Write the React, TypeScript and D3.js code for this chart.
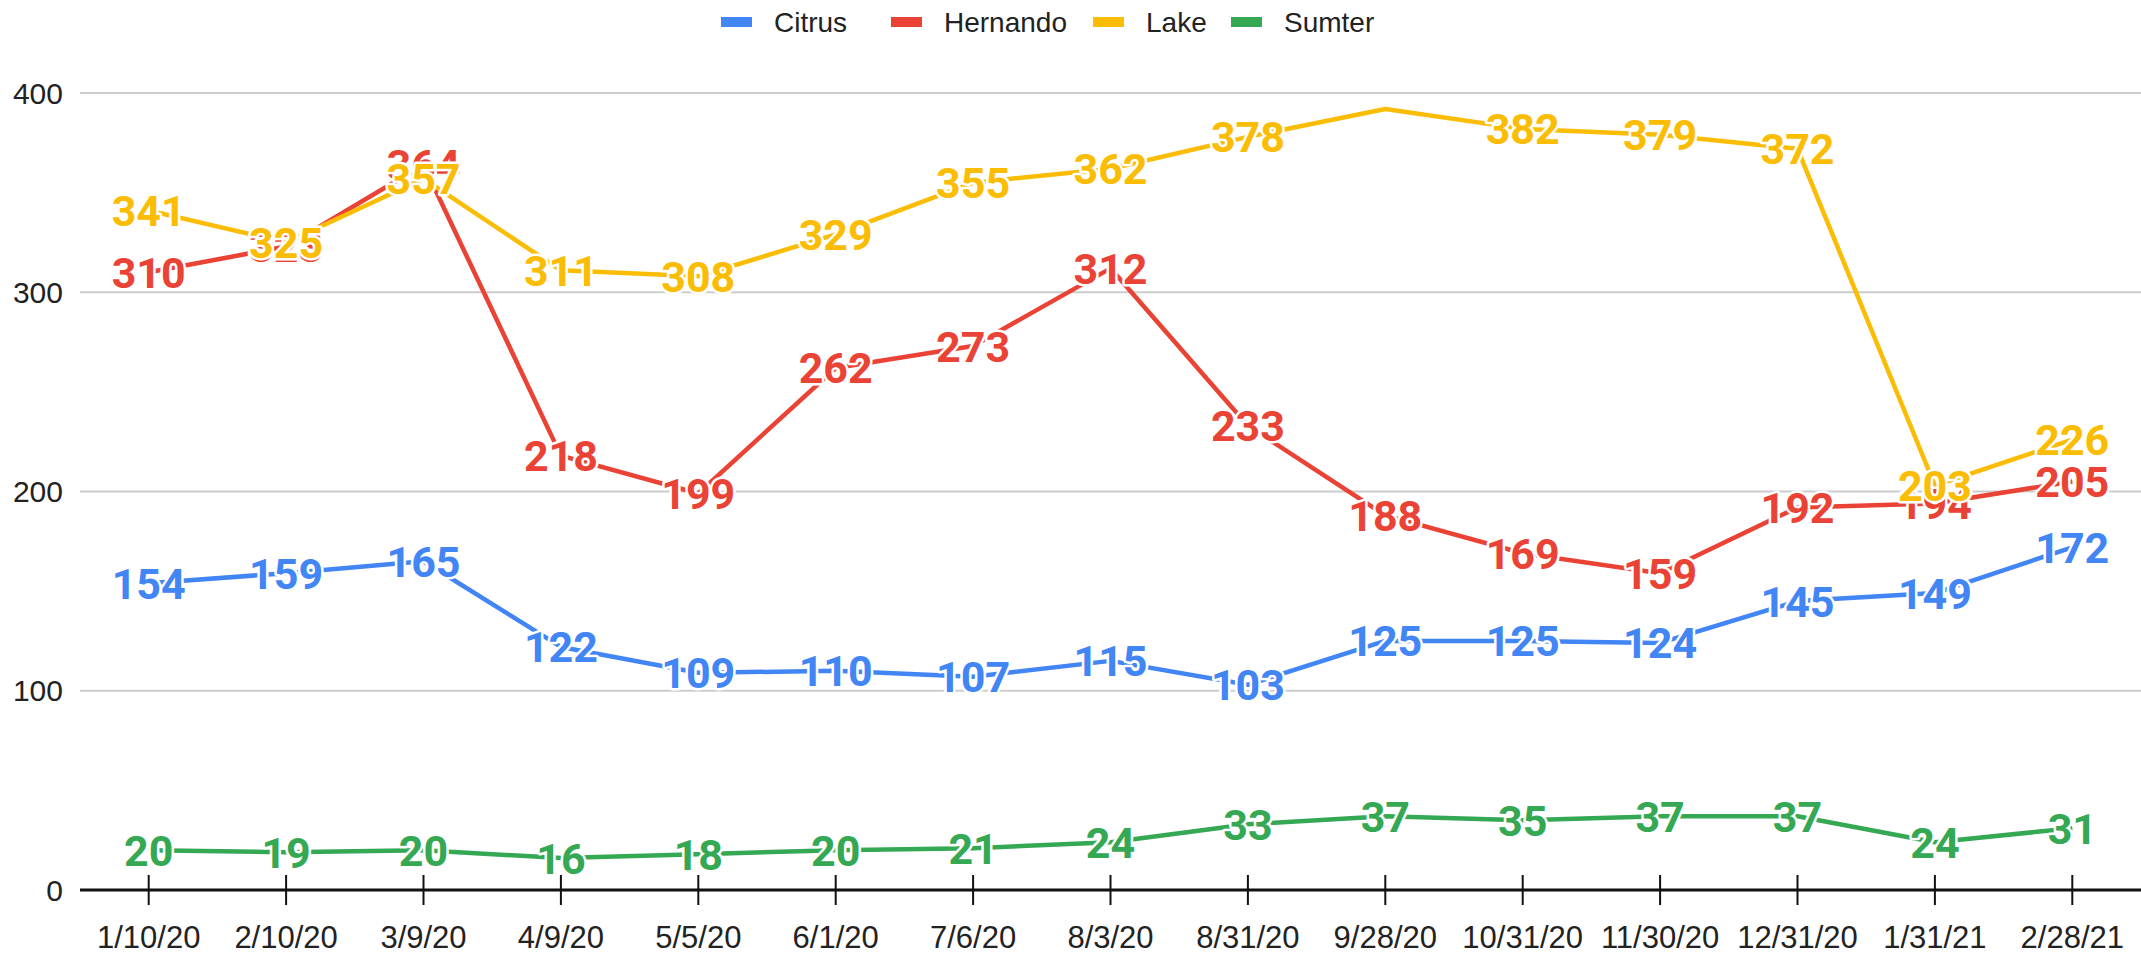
import React from 'react';
import * as d3 from 'd3';

const dates = ['1/10/20', '2/10/20', '3/9/20', '4/9/20', '5/5/20', '6/1/20', '7/6/20', '8/3/20', '8/31/20', '9/28/20', '10/31/20', '11/30/20', '12/31/20', '1/31/21', '2/28/21'];

const citrus = [154, 159, 165, 122, 109, 110, 107, 115, 103, 125, 125, 124, 145, 149, 172];
const hernando = [310, 323, 364, 218, 199, 262, 273, 312, 233, 188, 169, 159, 192, 194, 205];
const lake = [341, 325, 357, 311, 308, 329, 355, 362, 378, 392, 382, 379, 372, 203, 226];
const sumter = [20, 19, 20, 16, 18, 20, 21, 24, 33, 37, 35, 37, 37, 24, 31];

const yTicks = [0, 100, 200, 300, 400];

// Lake's 9/28/20 point carries no label in the original
const hiddenLabels = ['Lake-9'];

const series = [
  { name: 'Citrus', values: citrus, color: '#4285f4' },
  { name: 'Hernando', values: hernando, color: '#ea4335' },
  { name: 'Lake', values: lake, color: '#fbbc04' },
  { name: 'Sumter', values: sumter, color: '#34a853' },
];

const W = 2141, H = 955;
const margin = { left: 80, right: 0, top: 93, bottom: 65 };

export default function App() {
  const x = d3.scalePoint<string>()
    .domain(dates)
    .range([margin.left, W - margin.right])
    .padding(0.5);
  const y = d3.scaleLinear()
    .domain([0, 400])
    .range([H - margin.bottom, margin.top]);

  const line = d3.line<number>()
    .x((_, i) => x(dates[i]) as number)
    .y(d => y(d));

  // legend item positions (swatch left edge)
  const legendX = [721, 891, 1093, 1231];

  return (
    <svg width={W} height={H} style={{ position: 'absolute', left: 0, top: 0, background: '#fff' }}
      fontFamily="Arial, 'Liberation Sans', sans-serif">
      {/* legend */}
      {series.map((s, i) => (
        <g key={s.name} transform={`translate(${legendX[i]},22)`}>
          <rect x={0} y={-5} width={31} height={10} fill={s.color} />
          <text x={53} y={10} fontSize={28} fill="#222">{s.name}</text>
        </g>
      ))}

      {/* grid */}
      {yTicks.filter(t => t > 0).map(t => (
        <line key={t} x1={margin.left} x2={W} y1={y(t)} y2={y(t)} stroke="#cccccc" strokeWidth={2} />
      ))}
      {yTicks.map(t => (
        <text key={t} x={63} y={y(t)} dy="0.35em" textAnchor="end" fontSize={30} fill="#222">{t}</text>
      ))}

      {/* x axis */}
      <line x1={margin.left} x2={W} y1={y(0)} y2={y(0)} stroke="#111" strokeWidth={3} />
      {dates.map(d => (
        <g key={d}>
          <line x1={x(d)} x2={x(d)} y1={y(0) - 15} y2={y(0) + 15} stroke="#111" strokeWidth={2} />
          <text x={x(d)} y={948} textAnchor="middle" fontSize={31} fill="#222">{d}</text>
        </g>
      ))}

      {/* lines */}
      {series.map(s => (
        <path key={s.name} d={line(s.values) || ''} fill="none" stroke={s.color} strokeWidth={4.5} strokeLinejoin="round" />
      ))}

      {/* data labels */}
      {series.map(s => (
        <g key={s.name}>
          {s.values.map((v, i) => hiddenLabels.includes(`${s.name}-${i}`) ? null : (
            <text key={i} x={x(dates[i])} y={y(v)} dy="0.36em" textAnchor="middle"
              fontFamily="Roboto, 'Noto Sans', sans-serif" fontWeight="bold" fontSize={43}
              fill={s.color} stroke="#fff" strokeWidth={5} paintOrder="stroke" strokeLinejoin="round">
              {v}
            </text>
          ))}
        </g>
      ))}
    </svg>
  );
}
